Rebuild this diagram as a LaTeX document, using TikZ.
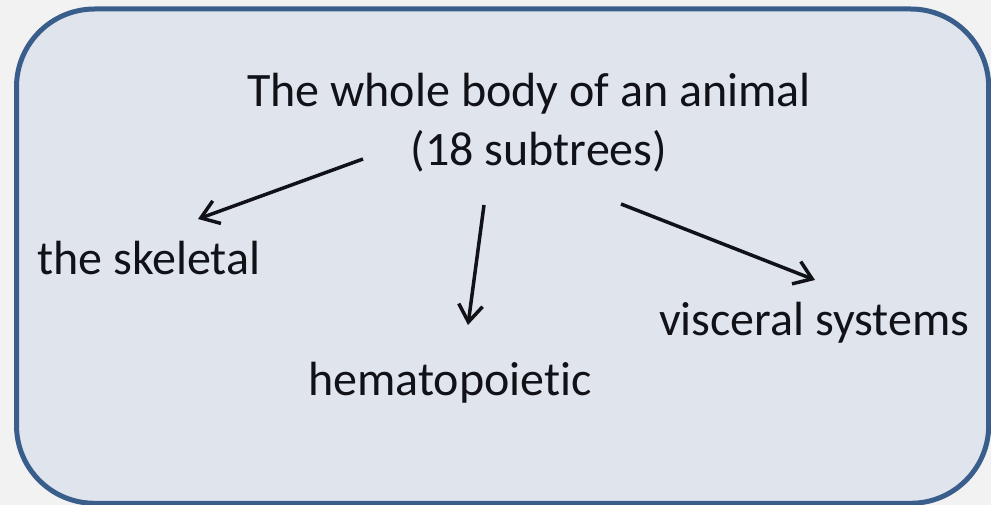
\documentclass[tikz,border=0pt]{standalone}
\usepackage{fontspec}
\setmainfont{Carlito}[Ligatures={NoCommon}]
\usetikzlibrary{arrows.meta}
\definecolor{bgc}{HTML}{F2F2F2}
\definecolor{boxfill}{HTML}{E0E4ED}
\definecolor{boxline}{HTML}{3A5E8C}
\definecolor{txt}{HTML}{111118}
\tikzset{
  lbl/.style={inner sep=0pt, text=txt, font=\fontsize{48}{58}\selectfont},
  conn/.style={draw=txt, line width=3.5pt, -{Straight Barb[length=17pt,width=24pt]}},
}
\begin{document}
\begin{tikzpicture}[x=1pt,y=-1pt]
\useasboundingbox (0,0) rectangle (991,505);
\fill[bgc] (0,0) rectangle (991,505);
\draw[boxline, fill=boxfill, line width=5pt, rounded corners=78pt] (16.5,9) rectangle (988.7,503.3);
\node[lbl, anchor=base] (title1) at (529,107) {The whole body of an animal};
\node[lbl, anchor=base] (title2) at (539,166) {(18 subtrees)};
\node[lbl, anchor=base west] (skel) at (37,275) {the skeletal};
\node[lbl, anchor=base west] (hema) at (308,395) {hematopoietic};
\node[lbl, anchor=base west] (visc) at (659,335) {visceral systems};
\coordinate (s1) at (363,159);
\coordinate (e1) at (198,219);
\coordinate (s2) at (484,205);
\coordinate (e2) at (468,325);
\coordinate (s3) at (621,204);
\coordinate (e3) at (815,280);
\draw[conn] (s1) -- (e1);
\draw[conn] (s2) -- (e2);
\draw[conn] (s3) -- (e3);
\end{tikzpicture}
\end{document}
